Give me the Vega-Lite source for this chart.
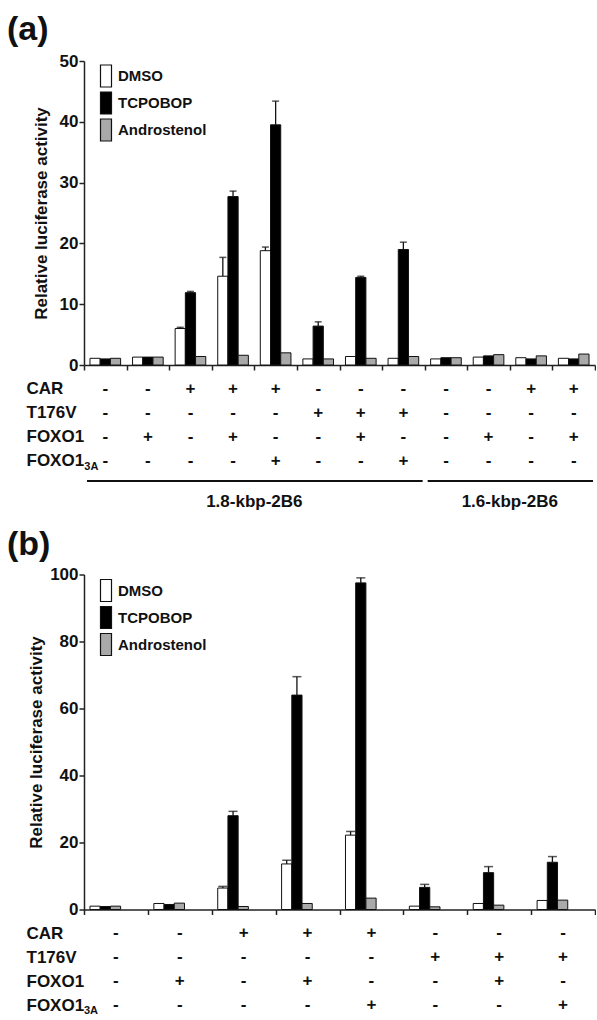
{
  "$schema": "https://vega.github.io/schema/vega-lite/v6.json",
  "padding": {"left": 7, "top": 13, "right": 0, "bottom": 0},
  "spacing": 6.5,
  "config": {
    "view": {"stroke": null},
    "font": "Liberation Sans",
    "title": {"font": "Liberation Sans", "color": "#111"},
    "axis": {"labelFont": "Liberation Sans", "titleFont": "Liberation Sans"},
    "legend": {"labelFont": "Liberation Sans"}
  },
  "resolve": {"scale": {"x": "independent", "y": "independent", "color": "independent"}},
  "datasets": {
    "barsA": [
      {"g":1,"t":"DMSO","v":1.1},{"g":1,"t":"TCPOBOP","v":1.0},{"g":1,"t":"Androstenol","v":1.1},
      {"g":2,"t":"DMSO","v":1.3},{"g":2,"t":"TCPOBOP","v":1.3},{"g":2,"t":"Androstenol","v":1.3},
      {"g":3,"t":"DMSO","v":6.0,"hi":6.2},{"g":3,"t":"TCPOBOP","v":11.9,"hi":12.1},{"g":3,"t":"Androstenol","v":1.4},
      {"g":4,"t":"DMSO","v":14.6,"hi":17.7},{"g":4,"t":"TCPOBOP","v":27.7,"hi":28.6},{"g":4,"t":"Androstenol","v":1.6},
      {"g":5,"t":"DMSO","v":18.8,"hi":19.4},{"g":5,"t":"TCPOBOP","v":39.5,"hi":43.4},{"g":5,"t":"Androstenol","v":2.0},
      {"g":6,"t":"DMSO","v":1.0},{"g":6,"t":"TCPOBOP","v":6.4,"hi":7.1},{"g":6,"t":"Androstenol","v":1.0},
      {"g":7,"t":"DMSO","v":1.4},{"g":7,"t":"TCPOBOP","v":14.4,"hi":14.6},{"g":7,"t":"Androstenol","v":1.1},
      {"g":8,"t":"DMSO","v":1.1},{"g":8,"t":"TCPOBOP","v":19.0,"hi":20.2},{"g":8,"t":"Androstenol","v":1.4},
      {"g":9,"t":"DMSO","v":1.0},{"g":9,"t":"TCPOBOP","v":1.2},{"g":9,"t":"Androstenol","v":1.2},
      {"g":10,"t":"DMSO","v":1.3},{"g":10,"t":"TCPOBOP","v":1.5},{"g":10,"t":"Androstenol","v":1.7},
      {"g":11,"t":"DMSO","v":1.2},{"g":11,"t":"TCPOBOP","v":1.0},{"g":11,"t":"Androstenol","v":1.5},
      {"g":12,"t":"DMSO","v":1.1},{"g":12,"t":"TCPOBOP","v":1.0},{"g":12,"t":"Androstenol","v":1.8}
    ],
    "barsB": [
      {"g":1,"t":"DMSO","v":1.0},{"g":1,"t":"TCPOBOP","v":0.9},{"g":1,"t":"Androstenol","v":1.0},
      {"g":2,"t":"DMSO","v":1.8},{"g":2,"t":"TCPOBOP","v":1.5},{"g":2,"t":"Androstenol","v":1.9},
      {"g":3,"t":"DMSO","v":6.4,"hi":6.9},{"g":3,"t":"TCPOBOP","v":28.0,"hi":29.3},{"g":3,"t":"Androstenol","v":0.9},
      {"g":4,"t":"DMSO","v":13.6,"hi":14.7},{"g":4,"t":"TCPOBOP","v":64.0,"hi":69.5},{"g":4,"t":"Androstenol","v":1.8},
      {"g":5,"t":"DMSO","v":22.2,"hi":23.3},{"g":5,"t":"TCPOBOP","v":97.5,"hi":99.0},{"g":5,"t":"Androstenol","v":3.4},
      {"g":6,"t":"DMSO","v":1.0},{"g":6,"t":"TCPOBOP","v":6.6,"hi":7.5},{"g":6,"t":"Androstenol","v":0.8},
      {"g":7,"t":"DMSO","v":1.8},{"g":7,"t":"TCPOBOP","v":11.0,"hi":12.8},{"g":7,"t":"Androstenol","v":1.3},
      {"g":8,"t":"DMSO","v":2.7},{"g":8,"t":"TCPOBOP","v":14.1,"hi":15.8},{"g":8,"t":"Androstenol","v":2.8}
    ],
    "tableA": [
      {"g":1,"CAR":"-","T176V":"-","FOXO1":"-","FOXO1_3A":"-"},
      {"g":2,"CAR":"-","T176V":"-","FOXO1":"+","FOXO1_3A":"-"},
      {"g":3,"CAR":"+","T176V":"-","FOXO1":"-","FOXO1_3A":"-"},
      {"g":4,"CAR":"+","T176V":"-","FOXO1":"+","FOXO1_3A":"-"},
      {"g":5,"CAR":"+","T176V":"-","FOXO1":"-","FOXO1_3A":"+"},
      {"g":6,"CAR":"-","T176V":"+","FOXO1":"-","FOXO1_3A":"-"},
      {"g":7,"CAR":"-","T176V":"+","FOXO1":"+","FOXO1_3A":"-"},
      {"g":8,"CAR":"-","T176V":"+","FOXO1":"-","FOXO1_3A":"+"},
      {"g":9,"CAR":"-","T176V":"-","FOXO1":"-","FOXO1_3A":"-"},
      {"g":10,"CAR":"-","T176V":"-","FOXO1":"+","FOXO1_3A":"-"},
      {"g":11,"CAR":"+","T176V":"-","FOXO1":"-","FOXO1_3A":"-"},
      {"g":12,"CAR":"+","T176V":"-","FOXO1":"+","FOXO1_3A":"-"}
    ],
    "tableB": [
      {"g":1,"CAR":"-","T176V":"-","FOXO1":"-","FOXO1_3A":"-"},
      {"g":2,"CAR":"-","T176V":"-","FOXO1":"+","FOXO1_3A":"-"},
      {"g":3,"CAR":"+","T176V":"-","FOXO1":"-","FOXO1_3A":"-"},
      {"g":4,"CAR":"+","T176V":"-","FOXO1":"+","FOXO1_3A":"-"},
      {"g":5,"CAR":"+","T176V":"-","FOXO1":"-","FOXO1_3A":"+"},
      {"g":6,"CAR":"-","T176V":"+","FOXO1":"-","FOXO1_3A":"-"},
      {"g":7,"CAR":"-","T176V":"+","FOXO1":"+","FOXO1_3A":"-"},
      {"g":8,"CAR":"-","T176V":"+","FOXO1":"-","FOXO1_3A":"+"}
    ],
    "brackets": [
      {"construct":"1.8-kbp-2B6","s":0,"e":8,"m":4},
      {"construct":"1.6-kbp-2B6","s":8,"e":12,"m":10}
    ],
    "subs": [{"row":"FOXO1_3A","g":1,"sub":"3A"}]
  },
  "vconcat": [
    {
      "title": {"text": "(a)", "fontSize": 34, "fontWeight": "bold", "anchor": "start", "frame": "group", "dx": -77, "offset": 5},
      "width": 511, "height": 304,
      "data": {"name": "barsA"},
      "encoding": {
        "x": {"field": "g", "type": "ordinal", "scale": {"paddingInner": 0, "paddingOuter": 0},
              "axis": {"labels": false, "title": null, "tickBand": "extent", "tickSize": 5, "tickWidth": 1.5, "tickColor": "#222", "domainColor": "#222", "domainWidth": 1.5}},
        "xOffset": {"field": "t", "type": "nominal", "sort": ["DMSO","TCPOBOP","Androstenol"], "scale": {"paddingInner": 0, "paddingOuter": 0.585}}
      },
      "layer": [
        {
          "mark": {"type": "bar", "stroke": "#111", "strokeWidth": 1},
          "encoding": {
            "y": {"field": "v", "type": "quantitative", "title": "Relative luciferase activity", "scale": {"domain": [0, 50], "nice": false},
                  "axis": {"values": [0,10,20,30,40,50], "grid": false, "tickSize": 5, "tickWidth": 1.5, "tickColor": "#222", "domainColor": "#222", "domainWidth": 1.5, "labelFontSize": 17, "labelFontWeight": "bold", "labelColor": "#111", "labelPadding": 1, "titleFontSize": 17, "titleFontWeight": "bold", "titleColor": "#111", "titlePadding": 9}},
            "color": {"field": "t", "type": "nominal", "sort": ["DMSO","TCPOBOP","Androstenol"],
                      "scale": {"domain": ["DMSO","TCPOBOP","Androstenol"], "range": ["#ffffff","#000000","#a9a9a9"]},
                      "legend": {"orient": "none", "legendX": 10, "legendY": 3, "title": null, "symbolType": "M-0.5,-1H0.5V1H-0.5Z", "symbolSize": 484, "symbolStrokeColor": "#111", "symbolStrokeWidth": 1.2, "symbolOpacity": 1, "labelFontSize": 15, "labelFontWeight": "bold", "labelColor": "#111", "labelOffset": 0, "rowPadding": -1, "padding": 0}}
          }
        },
        {
          "transform": [{"filter": "isValid(datum.hi)"}],
          "mark": {"type": "rule", "color": "#111", "strokeWidth": 1.3},
          "encoding": {"y": {"field": "v", "type": "quantitative", "title": "Relative luciferase activity"}, "y2": {"field": "hi"}}
        },
        {
          "transform": [{"filter": "isValid(datum.hi)"}],
          "mark": {"type": "tick", "color": "#111", "thickness": 1.5, "size": 7},
          "encoding": {"y": {"field": "hi", "type": "quantitative", "title": "Relative luciferase activity"}}
        }
      ]
    },
    {
      "width": 511, "height": 72,
      "layer": [
        {
          "data": {"name": "tableA"},
          "transform": [{"fold": ["CAR","T176V","FOXO1","FOXO1_3A"], "as": ["row","sign"]}],
          "mark": {"type": "text", "fontSize": 17, "fontWeight": "bold", "color": "#111"},
          "encoding": {
            "x": {"field": "g", "type": "ordinal", "scale": {"paddingInner": 0, "paddingOuter": 0}, "axis": null},
            "y": {"field": "row", "type": "ordinal", "scale": {"type": "point", "padding": 0, "domain": ["CAR","T176V","FOXO1","FOXO1_3A"]},
                  "axis": {"title": null, "domain": false, "ticks": false, "tickSize": 0, "labelAlign": "left", "labelPadding": 58, "labelFontSize": 17, "labelFontWeight": "bold", "labelColor": "#111", "labelExpr": "datum.value == 'FOXO1_3A' ? 'FOXO1' : datum.value"}},
            "text": {"field": "sign"}
          }
        },
        {
          "data": {"name": "subs"},
          "mark": {"type": "text", "fontSize": 11, "fontWeight": "bold", "align": "left", "dx": -21, "dy": 6, "color": "#111"},
          "encoding": {
            "x": {"field": "g", "type": "ordinal"},
            "y": {"field": "row", "type": "ordinal"},
            "text": {"field": "sub"}
          }
        }
      ]
    },
    {
      "width": 511, "height": 6,
      "data": {"name": "brackets"},
      "layer": [
        {
          "mark": {"type": "rule", "color": "#111", "strokeWidth": 2, "xOffset": 3, "x2Offset": -2},
          "encoding": {"x": {"field": "s", "type": "quantitative", "scale": {"domain": [0, 12], "nice": false, "zero": false}, "axis": null}, "x2": {"field": "e"}}
        },
        {
          "mark": {"type": "text", "fontSize": 17, "fontWeight": "bold", "dy": 21, "color": "#111"},
          "encoding": {"x": {"field": "m", "type": "quantitative"}, "text": {"field": "construct"}}
        }
      ]
    },
    {
      "title": {"text": ["", "(b)"], "lineHeight": 11, "fontSize": 34, "fontWeight": "bold", "anchor": "start", "frame": "group", "dx": -77, "offset": 4},
      "width": 511, "height": 335,
      "data": {"name": "barsB"},
      "encoding": {
        "x": {"field": "g", "type": "ordinal", "scale": {"paddingInner": 0, "paddingOuter": 0},
              "axis": {"labels": false, "title": null, "tickBand": "extent", "tickSize": 5, "tickWidth": 1.5, "tickColor": "#222", "domainColor": "#222", "domainWidth": 1.5}},
        "xOffset": {"field": "t", "type": "nominal", "sort": ["DMSO","TCPOBOP","Androstenol"], "scale": {"paddingInner": 0, "paddingOuter": 0.585}}
      },
      "layer": [
        {
          "mark": {"type": "bar", "stroke": "#111", "strokeWidth": 1},
          "encoding": {
            "y": {"field": "v", "type": "quantitative", "title": "Relative luciferase activity", "scale": {"domain": [0, 100], "nice": false},
                  "axis": {"values": [0,20,40,60,80,100], "grid": false, "tickSize": 5, "tickWidth": 1.5, "tickColor": "#222", "domainColor": "#222", "domainWidth": 1.5, "labelFontSize": 17, "labelFontWeight": "bold", "labelColor": "#111", "labelPadding": 1, "titleFontSize": 17, "titleFontWeight": "bold", "titleColor": "#111", "titlePadding": 4}},
            "color": {"field": "t", "type": "nominal", "sort": ["DMSO","TCPOBOP","Androstenol"],
                      "scale": {"domain": ["DMSO","TCPOBOP","Androstenol"], "range": ["#ffffff","#000000","#a9a9a9"]},
                      "legend": {"orient": "none", "legendX": 10, "legendY": 4, "title": null, "symbolType": "M-0.5,-1H0.5V1H-0.5Z", "symbolSize": 484, "symbolStrokeColor": "#111", "symbolStrokeWidth": 1.2, "symbolOpacity": 1, "labelFontSize": 15, "labelFontWeight": "bold", "labelColor": "#111", "labelOffset": 0, "rowPadding": -1, "padding": 0}}
          }
        },
        {
          "transform": [{"filter": "isValid(datum.hi)"}],
          "mark": {"type": "rule", "color": "#111", "strokeWidth": 1.3},
          "encoding": {"y": {"field": "v", "type": "quantitative", "title": "Relative luciferase activity"}, "y2": {"field": "hi"}}
        },
        {
          "transform": [{"filter": "isValid(datum.hi)"}],
          "mark": {"type": "tick", "color": "#111", "thickness": 1.5, "size": 9},
          "encoding": {"y": {"field": "hi", "type": "quantitative", "title": "Relative luciferase activity"}}
        }
      ]
    },
    {
      "width": 511, "height": 72,
      "layer": [
        {
          "data": {"name": "tableB"},
          "transform": [{"fold": ["CAR","T176V","FOXO1","FOXO1_3A"], "as": ["row","sign"]}],
          "mark": {"type": "text", "fontSize": 17, "fontWeight": "bold", "color": "#111"},
          "encoding": {
            "x": {"field": "g", "type": "ordinal", "scale": {"paddingInner": 0, "paddingOuter": 0}, "axis": null},
            "y": {"field": "row", "type": "ordinal", "scale": {"type": "point", "padding": 0, "domain": ["CAR","T176V","FOXO1","FOXO1_3A"]},
                  "axis": {"title": null, "domain": false, "ticks": false, "tickSize": 0, "labelAlign": "left", "labelPadding": 58, "labelFontSize": 17, "labelFontWeight": "bold", "labelColor": "#111", "labelExpr": "datum.value == 'FOXO1_3A' ? 'FOXO1' : datum.value"}},
            "text": {"field": "sign"}
          }
        },
        {
          "data": {"name": "subs"},
          "mark": {"type": "text", "fontSize": 11, "fontWeight": "bold", "align": "left", "dx": -32, "dy": 6, "color": "#111"},
          "encoding": {
            "x": {"field": "g", "type": "ordinal"},
            "y": {"field": "row", "type": "ordinal"},
            "text": {"field": "sub"}
          }
        }
      ]
    }
  ]
}
